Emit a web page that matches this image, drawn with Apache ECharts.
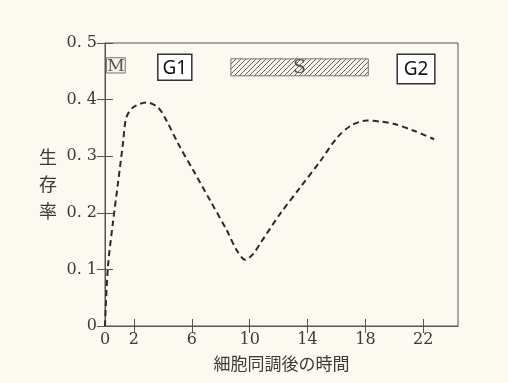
<!DOCTYPE html>
<html>
<head>
<meta charset="utf-8">
<script src="https://cdn.jsdelivr.net/npm/echarts@6/dist/echarts.min.js"></script>
<style>
  html, body { margin: 0; padding: 0; background: #fbf9f0; }
  #chart { width: 508px; height: 383px; }
</style>
</head>
<body>
<div id="chart"></div>
<script>
// 細胞同調後の時間 (h) と 生存率
const hours    = [0, 0.2, 0.54, 0.89, 1.24, 1.47, 1.93, 2.86, 3.67, 4.25, 5.06, 6.1, 7.26, 8.42, 9.1, 9.7, 10.26, 10.73, 12.1, 13.5, 14.9, 16.05, 17.0, 18.1, 19.1, 20.0, 21.35, 22.75]
const survival = [0, 0.104, 0.181, 0.251, 0.322, 0.368, 0.386, 0.395, 0.386, 0.363, 0.322, 0.275, 0.222, 0.169, 0.134, 0.117, 0.128, 0.146, 0.198, 0.245, 0.292, 0.333, 0.354, 0.363, 0.361, 0.357, 0.345, 0.330]

const xLabels = [0, 2, 6, 10, 14, 18, 22]
const xTicks  = [2, 6, 10, 14, 18, 22]

// 細胞周期の区間 [start, end, top, bottom, label]
const phases = [
  [0.1, 1.4, 0.474, 0.447, 'M'],
  [3.65, 6.0, 0.48, 0.434, 'G1'],
  [8.7, 18.2, 0.472, 0.442, 'S'],
  [20.2, 22.8, 0.48, 0.428, 'G2']
]

const serif = '"DejaVu Serif", "Liberation Serif", serif'
const ink = '#3a3a3a'

// 斜線パターン
function hatch() {
  const c = document.createElement('canvas')
  c.width = 5; c.height = 5
  const g = c.getContext('2d')
  g.fillStyle = '#f4f2ea'
  g.fillRect(0, 0, 5, 5)
  g.strokeStyle = '#555'
  g.lineWidth = 0.9
  g.beginPath()
  g.moveTo(0, 5); g.lineTo(5, 0)
  g.moveTo(-1, 1); g.lineTo(1, -1)
  g.moveTo(4, 6); g.lineTo(6, 4)
  g.stroke()
  return c
}
const hatchImg = hatch()

const myChart = echarts.init(document.getElementById('chart'))
const option = {
  backgroundColor: '#fbf9f0',
  animation: false,
  grid: { left: 105, right: 50, top: 43, bottom: 57, show: true, borderColor: '#555', borderWidth: 1 },
  xAxis: [
    {
      type: 'value', min: 0, max: 24.4,
      name: '細胞同調後の時間', nameLocation: 'middle', nameGap: 29,
      nameTextStyle: { color: ink, fontSize: 17, fontFamily: '"Noto Sans CJK JP"' },
      axisLine: { show: true, lineStyle: { color: '#555' } },
      axisTick: { show: true, inside: true, length: 7, customValues: xTicks, lineStyle: { color: '#555' } },
      axisLabel: { customValues: xLabels, color: ink, fontSize: 16, fontFamily: serif, margin: 6 },
      splitLine: { show: false }
    },
    {
      type: 'value', min: 0, max: 24.4, position: 'top',
      axisLine: { show: false },
      axisTick: { show: true, inside: true, length: 7, customValues: xTicks, lineStyle: { color: '#555' } },
      axisLabel: { show: false },
      splitLine: { show: false }
    }
  ],
  yAxis: [
    {
      type: 'value', min: 0, max: 0.5, interval: 0.1,
      name: '生\n存\n率', nameLocation: 'middle', nameGap: 48, nameRotate: 0,
      nameTextStyle: { color: ink, fontSize: 18, lineHeight: 27, fontFamily: '"Noto Sans CJK JP"', padding: [0, 0, 22, 0] },
      axisLine: { show: true, lineStyle: { color: '#555' } },
      axisTick: { show: true, inside: true, length: 8, lineStyle: { color: '#555' } },
      axisLabel: {
        color: ink, fontSize: 16, fontFamily: serif, margin: 8,
        formatter: v => v === 0 ? '0' : v.toFixed(1).replace('.', '. ')
      },
      splitLine: { show: false }
    },
    {
      type: 'value', min: 0, max: 0.5, interval: 0.1, position: 'right',
      axisLine: { show: false },
      axisTick: { show: true, inside: true, length: 8, lineStyle: { color: '#555' } },
      axisLabel: { show: false },
      splitLine: { show: false }
    }
  ],
  series: [
    {
      type: 'line',
      data: hours.map((h, i) => [h, survival[i]]),
      smooth: 0.3,
      showSymbol: false,
      lineStyle: { color: '#2a2a2a', width: 2, type: [6, 4] }
    },
    {
      type: 'custom',
      data: phases,
      renderItem: (params, api) => {
        const p0 = api.coord([api.value(0), api.value(2)])
        const p1 = api.coord([api.value(1), api.value(3)])
        const label = phases[params.dataIndex][4]
        const isG = label[0] === 'G'
        const fill = label === 'S' ? { image: hatchImg, repeat: 'repeat' } : (isG ? '#fff' : '#f4f2ea')
        return {
          type: 'group',
          children: [
            {
              type: 'rect',
              shape: { x: p0[0], y: p0[1], width: p1[0] - p0[0], height: p1[1] - p0[1] },
              style: { fill: fill, stroke: isG ? '#333' : '#777', lineWidth: isG ? 1.5 : 1 }
            },
            {
              type: 'text',
              style: {
                text: label,
                x: (p0[0] + p1[0]) / 2, y: (p0[1] + p1[1]) / 2 + 1,
                align: 'center', verticalAlign: 'middle',
                fill: isG ? '#111' : '#555',
                fontSize: isG ? 19 : (label === 'S' ? 19 : 17),
                fontFamily: isG ? '"Noto Sans", sans-serif' : serif
              }
            }
          ]
        }
      }
    }
  ]
}
myChart.setOption(option)
window.addEventListener('resize', function () {
  myChart.resize()
})
</script>
</body>
</html>
